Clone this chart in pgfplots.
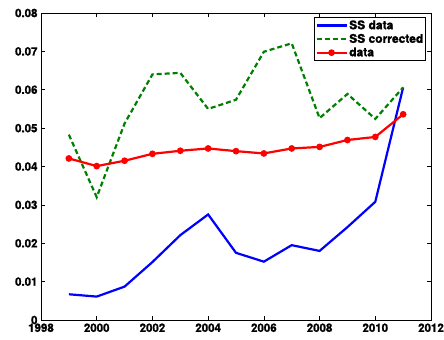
\documentclass[border=0pt]{standalone}
\usepackage{pgfplots}
\pgfplotsset{compat=1.18}
\usepackage{fontspec}
\setmainfont{TeX Gyre Heros}[BoldFeatures={FakeBold=1.2}]
\begin{document}
\begin{tikzpicture}
\begin{axis}[
    name=ax,
    scale only axis,
    width=390pt, height=307pt,
    xmin=1998, xmax=2012,
    ymin=0, ymax=0.08,
    xtick={1998,2000,...,2012},
    ytick={0,0.01,...,0.08},
    scaled y ticks=false,
    tick align=inside,
    major tick length=4pt,
    axis line style={line width=0.9pt},
    every tick/.style={black, line width=0.7pt},
    tick label style={font=\bfseries\fontsize{11.5}{13}\selectfont},
    /pgf/number format/assume math mode=true,
    xticklabel={\pgfmathprintnumber[1000 sep={}]{\tick}},
    yticklabel={\ifdim\tick pt<0.001pt 0\else\pgfmathprintnumber[fixed,fixed zerofill,precision=2]{\tick}\fi},
    legend style={at={(0.988,0.986)}, anchor=north east, draw=black, line width=0.9pt,
        font=\bfseries\fontsize{12}{12}\selectfont, inner sep=1pt, row sep=0pt,
        nodes={inner sep=1.6pt}},
    legend cell align=left,
    legend image code/.code={\draw[#1, line width=2.2pt, mark repeat=2, mark phase=2] plot coordinates {(0pt,0pt) (15pt,0pt) (30pt,0pt)};},
]
\addplot[blue, line width=2.2pt] coordinates {
 (1999,0.0067) (2000,0.0061) (2001,0.0087) (2002,0.0151) (2003,0.0221)
 (2004,0.0275) (2005,0.0175) (2006,0.0152) (2007,0.0195) (2008,0.0180)
 (2009,0.0242) (2010,0.0308) (2011,0.0606)
};
\addlegendentry{SS data}
\addplot[green!50!black, line width=2.2pt, dash pattern=on 5pt off 3pt] coordinates {
 (1999,0.0483) (2000,0.0320) (2001,0.0512) (2002,0.0640) (2003,0.0644)
 (2004,0.0550) (2005,0.0574) (2006,0.0699) (2007,0.0721) (2008,0.0526)
 (2009,0.0589) (2010,0.0524) (2011,0.0606)
};
\addlegendentry{SS corrected}
\addplot[red, line width=2.2pt, mark=*, mark size=2.2pt] coordinates {
 (1999,0.0421) (2000,0.0401) (2001,0.0415) (2002,0.0433) (2003,0.0441)
 (2004,0.0447) (2005,0.0440) (2006,0.0434) (2007,0.0447) (2008,0.0451)
 (2009,0.0469) (2010,0.0477) (2011,0.0536)
};
\addlegendentry{data}
\end{axis}
\pgfresetboundingbox
\path[use as bounding box] ([xshift=-41pt,yshift=-20pt]ax.south west) rectangle ([xshift=13pt,yshift=13pt]ax.north east);
\end{tikzpicture}
\end{document}
